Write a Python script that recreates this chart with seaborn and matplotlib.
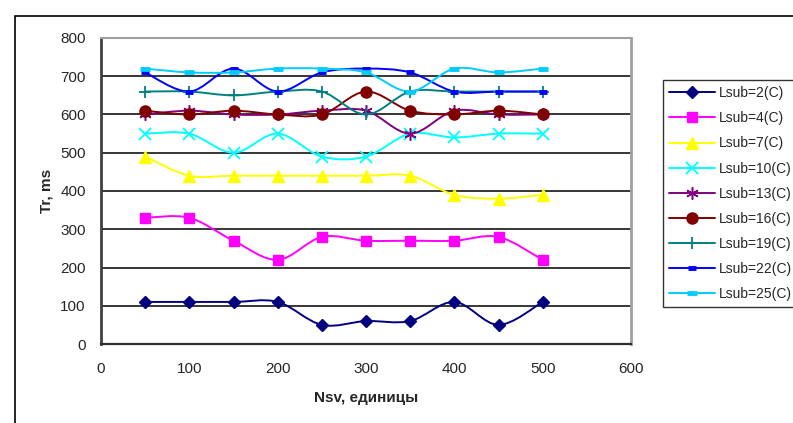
import numpy as np
import pandas as pd
import matplotlib
matplotlib.use("Agg")
import matplotlib.pyplot as plt
import seaborn as sns
from matplotlib.path import Path
from matplotlib.patches import PathPatch, Rectangle
from matplotlib.lines import Line2D

nsv = [50, 100, 150, 200, 250, 300, 350, 400, 450, 500]
labels = ["Lsub=2(C)", "Lsub=4(C)", "Lsub=7(C)", "Lsub=10(C)", "Lsub=13(C)",
          "Lsub=16(C)", "Lsub=19(C)", "Lsub=22(C)", "Lsub=25(C)"]
lsub2 = [110, 110, 110, 110, 50, 60, 60, 110, 50, 110]
lsub4 = [330, 330, 270, 220, 280, 270, 270, 270, 280, 220]
lsub7 = [490, 440, 440, 440, 440, 440, 440, 390, 380, 390]
lsub10 = [550, 550, 500, 550, 490, 490, 550, 540, 550, 550]
lsub13 = [600, 610, 600, 600, 610, 610, 550, 610, 600, 600]
lsub16 = [610, 600, 610, 600, 600, 660, 610, 600, 610, 600]
lsub19 = [660, 660, 650, 660, 660, 600, 660, 660, 660, 660]
lsub22 = [710, 660, 720, 660, 710, 720, 710, 660, 660, 660]
lsub25 = [720, 710, 710, 720, 720, 710, 660, 720, 710, 720]
series = [lsub2, lsub4, lsub7, lsub10, lsub13, lsub16, lsub19, lsub22, lsub25]
y_ticks = [0, 100, 200, 300, 400, 500, 600, 700, 800]
x_ticks = [0, 100, 200, 300, 400, 500, 600]

colors = ["#000080", "#FF00FF", "#FFFF00", "#00FFFF", "#800080",
          "#800000", "#008080", "#0000FF", "#00CCFF"]
markers = ["D", "s", "^", "x", (6, 2, 0), "o", "+", "_", "_"]
msizes = [6, 7.5, 8, 8, 9, 8, 9, 6, 7]
mews = [1, 1, 1, 1.3, 1.1, 1, 1.3, 3.5, 3.5]

sns.set_style("white")
plt.rcParams['font.family'] = ['Liberation Sans', 'DejaVu Sans']

fig = plt.figure(figsize=(7.93, 4.23), dpi=100)
ax = fig.add_axes([101/793, 1-344/423, 530/793, 306/423])

# outer chart frame
fig.patches.append(Rectangle((15/793, -0.1), 1.2, 1 - 16/423 + 0.1,
                             transform=fig.transFigure, fill=False,
                             edgecolor="black", lw=1.2, zorder=0))


def smooth_path(xs, ys):
    pts = np.column_stack([xs, ys]).astype(float)
    n = len(pts)
    verts = [pts[0]]
    codes = [Path.MOVETO]
    for i in range(n - 1):
        p0 = pts[i - 1] if i > 0 else pts[i]
        p1 = pts[i]
        p2 = pts[i + 1]
        p3 = pts[i + 2] if i + 2 < n else pts[i + 1]
        c1 = p1 + (p2 - p0) / 6.0
        c2 = p2 - (p3 - p1) / 6.0
        verts += [c1, c2, p2]
        codes += [Path.CURVE4] * 3
    return Path(verts, codes)


handles = []
for lab, vals, c, m, ms, mew in zip(labels, series, colors, markers, msizes, mews):
    ax.add_patch(PathPatch(smooth_path(nsv, vals), facecolor="none",
                           edgecolor=c, lw=1.4, zorder=3))
    df = pd.DataFrame({"x": nsv, "y": vals})
    sns.lineplot(data=df, x="x", y="y", ax=ax, color=c, marker=m,
                 markersize=ms, markeredgecolor=c, markerfacecolor=c,
                 markeredgewidth=mew, linestyle="none", legend=False, zorder=4)
    handles.append(Line2D([0], [0], color=c, lw=1.4, marker=m, markersize=ms,
                          markeredgecolor=c, markerfacecolor=c,
                          markeredgewidth=mew))

ax.set_xlim(0, 600)
ax.set_ylim(0, 800)
ax.set_xticks(x_ticks)
ax.set_yticks(y_ticks)
ax.tick_params(axis="both", labelsize=11, length=5, width=1, color="#000000",
               direction="out", pad=4)
ax.tick_params(axis="x", pad=8)
ax.tick_params(axis="y", pad=6)
for v in y_ticks[1:]:
    ax.axhline(v, color="black", lw=1.1, zorder=1)
ax.spines["left"].set_color("#404040")
ax.spines["left"].set_linewidth(2)
ax.spines["bottom"].set_color("#303030")
ax.spines["bottom"].set_linewidth(1.6)
ax.spines["top"].set_color("#a0a0a0")
ax.spines["top"].set_linewidth(1.5)
ax.spines["right"].set_color("#a0a0a0")
ax.spines["right"].set_linewidth(2)
ax.set_xlabel("Nsv, единицы", fontsize=11, fontweight="bold", labelpad=11)
ax.set_ylabel("Tr, ms", fontsize=11, fontweight="bold", labelpad=5)

leg = fig.legend(handles=handles, labels=labels, loc="upper left",
                 bbox_to_anchor=(663/793, 1-80/423), fontsize=10,
                 handlelength=3.3, handletextpad=0.25, labelspacing=0.80,
                 borderpad=0.45, borderaxespad=0, frameon=True, fancybox=False)
leg.get_frame().set_edgecolor("black")
leg.get_frame().set_linewidth(1)

fig.savefig("out.png", dpi=100)
